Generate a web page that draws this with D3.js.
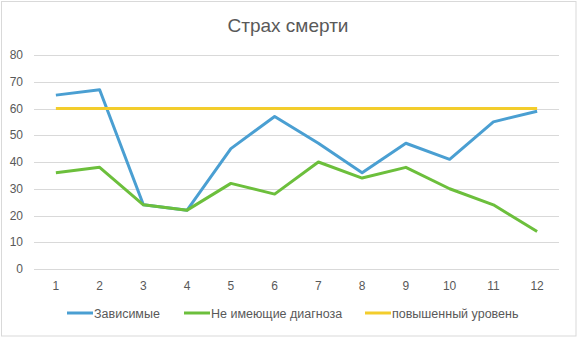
<!DOCTYPE html>
<html>
<head>
<meta charset="utf-8">
<script src="https://cdn.jsdelivr.net/npm/d3@7"></script>
<style>
  body { margin: 0; background: #fff; }
  text { font-family: "Liberation Sans", Arial, sans-serif; fill: #595959; }
</style>
</head>
<body>
<div class="canvas"></div>
<script>
// chart data
const categories = [1, 2, 3, 4, 5, 6, 7, 8, 9, 10, 11, 12];
const dependent = [65, 67, 24, 22, 45, 57, 47, 36, 47, 41, 55, 59];
const noDiagnosis = [36, 38, 24, 22, 32, 28, 40, 34, 38, 30, 24, 14];
const elevated = [60, 60, 60, 60, 60, 60, 60, 60, 60, 60, 60, 60];
const yTicks = [0, 10, 20, 30, 40, 50, 60, 70, 80];
const seriesNames = ["Зависимые", "Не имеющие диагноза", "повышенный уровень"];
const seriesColors = ["#4a9fd2", "#6cbf3c", "#f3cd2c"];

const width = 578, height = 338;
const margin = {top: 55, right: 19, bottom: 69, left: 34};

const svg = d3.select('.canvas')
  .append('svg')
    .attr('width', width)
    .attr('height', height);

// outer frame
svg.append('rect')
  .attr('x', 1.5).attr('y', 1.5)
  .attr('width', width - 3.5).attr('height', height - 3.5)
  .attr('fill', '#fff')
  .attr('stroke', '#d9d9d9');

const x = d3.scaleBand()
  .domain(categories)
  .range([margin.left, width - margin.right]);

const y = d3.scaleLinear()
  .domain([0, 80])
  .range([height - margin.bottom, margin.top]);

// gridlines
svg.append('g')
  .selectAll('line')
  .data(yTicks)
  .enter().append('line')
    .attr('x1', margin.left)
    .attr('x2', width - margin.right)
    .attr('y1', d => Math.round(y(d)) + 0.5)
    .attr('y2', d => Math.round(y(d)) + 0.5)
    .attr('stroke', '#d9d9d9')
    .attr('stroke-width', 1);

// y axis labels
svg.append('g')
  .selectAll('text')
  .data(yTicks)
  .enter().append('text')
    .attr('x', 23)
    .attr('y', d => y(d) + 4)
    .attr('text-anchor', 'end')
    .attr('font-size', 12)
    .text(d => d);

// x axis labels
svg.append('g')
  .selectAll('text')
  .data(categories)
  .enter().append('text')
    .attr('x', d => x(d) + x.bandwidth() / 2)
    .attr('y', 289.5)
    .attr('text-anchor', 'middle')
    .attr('font-size', 12)
    .text(d => d);

// title
svg.append('text')
  .attr('x', 288)
  .attr('y', 32)
  .attr('text-anchor', 'middle')
  .attr('font-size', 19)
  .text('Страх смерти');

const line = d3.line()
  .x((d, i) => x(categories[i]) + x.bandwidth() / 2)
  .y(d => y(d));

// draw series (yellow on top)
const allSeries = [dependent, noDiagnosis, elevated];
allSeries.forEach((s, k) => {
  svg.append('path')
    .datum(s)
    .attr('fill', 'none')
    .attr('stroke', seriesColors[k])
    .attr('stroke-width', 3)
    .attr('stroke-linejoin', 'round')
    .attr('d', line);
});

// legend
const legendX = [67, 184, 365];
const legend = svg.append('g');
seriesNames.forEach((name, k) => {
  legend.append('line')
    .attr('x1', legendX[k]).attr('x2', legendX[k] + 26)
    .attr('y1', 313).attr('y2', 313)
    .attr('stroke', seriesColors[k])
    .attr('stroke-width', 3);
  legend.append('text')
    .attr('x', legendX[k] + 27)
    .attr('y', 317.5)
    .attr('font-size', 12.5)
    .text(name);
});
</script>
</body>
</html>
